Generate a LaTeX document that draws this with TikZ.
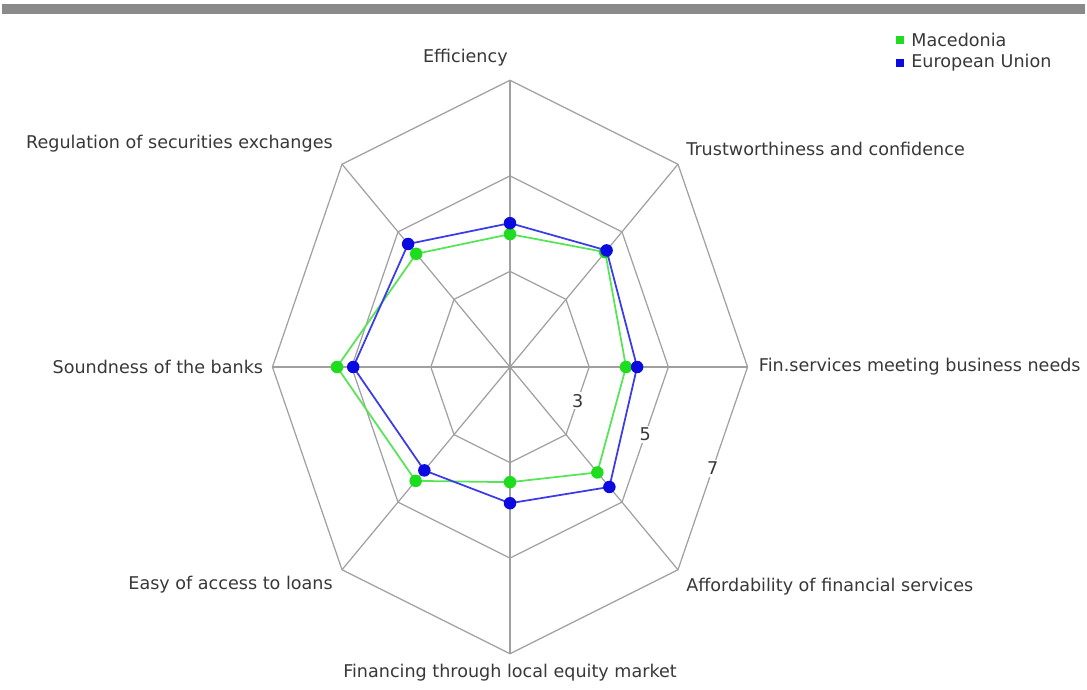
\documentclass[tikz,border=0pt]{standalone}
\usepackage{fontspec}
\setmainfont{DejaVu Sans}
\usetikzlibrary{positioning,calc}
\definecolor{macgreen}{RGB}{30,220,30}
\definecolor{eublue}{RGB}{10,10,225}
\definecolor{gridgray}{RGB}{160,160,160}
\definecolor{bargray}{RGB}{138,138,138}
\tikzset{
	line join=round
}

\begin{document}
\begin{tikzpicture}[
	x = 0.02cm, y = -0.02cm,
	every node/.style = {
		font = \fontsize{10}{12}\selectfont,
		text = black!78
	},
	gridline/.style = {
		draw = gridgray,
		line width = 0.7pt
	},
	axislabel/.style = {
		inner sep = 0pt
	},
	ringlabel/.style = {
		fill = white,
		inner sep = 1pt
	},
	macline/.style = {
		draw = macgreen!75,
		line width = 1pt
	},
	euline/.style = {
		draw = eublue!80,
		line width = 1pt
	},
	dot/.style = {
		circle,
		inner sep = 0pt,
		minimum size = 0.25cm
	},
	legbox/.style = {
		inner sep = 0pt,
		minimum size = 0.16cm
	}
	]

	\useasboundingbox (0,0) rectangle (1087,689);
	\fill[bargray] (2,4) rectangle (1085,14);

	\coordinate (c) at (510,367);
	\begin{scope}[shift={(c)}, x={(0.792cm,0)}, y={(0,0.956cm)}]
		\foreach \a in {0,45,...,315}
			\draw[gridline] (0,0) -- (\a:6);
		\foreach \r in {2,4,6}
			\draw[gridline] (0:\r) \foreach \a in {45,90,...,315} {-- (\a:\r)} -- cycle;
		\foreach \r/\v in {2/3,4/5,6/7}
			\node[ringlabel] (ring\v) at ($(0:\r)!0.5!(-45:\r)$) {\v};

		\coordinate (tipN) at (90:6);
		\coordinate (tipNE) at (45:6);
		\coordinate (tipE) at (0:6);
		\coordinate (tipSE) at (-45:6);
		\coordinate (tipS) at (-90:6);
		\coordinate (tipSW) at (-135:6);
		\coordinate (tipW) at (180:6);
		\coordinate (tipNW) at (135:6);

		\foreach \v [count=\i from 0] in {3.78,4.40,3.93,4.12,3.41,4.37,5.37,4.35}
			\coordinate (mac\i) at ({90-45*\i}:{\v-1});
		\foreach \v [count=\i from 0] in {4.01,4.45,4.21,4.55,3.85,4.06,4.96,4.64}
			\coordinate (eu\i) at ({90-45*\i}:{\v-1});
	\end{scope}

	\node[axislabel, above left = 2.8mm and 0.4mm of tipN] (eff) {Efficiency};
	\node[axislabel, above right = 1.7mm and 1.6mm of tipNE] (trust) {Trustworthiness and confidence};
	\node[axislabel, right = 2.2mm of tipE] (finserv) {Fin.services meeting business needs};
	\node[axislabel, below right = 1.6mm and 1.6mm of tipSE] (afford) {Affordability of financial services};
	\node[axislabel, below = 2mm of tipS] (equity) {Financing through local equity market};
	\node[axislabel, below left = 1.2mm and 1.8mm of tipSW] (loans) {Easy of access to loans};
	\node[axislabel, left = 1.8mm of tipW] (banks) {Soundness of the banks};
	\node[axislabel, above left = 2.4mm and 1.8mm of tipNW] (secex) {Regulation of securities exchanges};

	\draw[macline] (mac0) -- (mac1) -- (mac2) -- (mac3) -- (mac4) -- (mac5) -- (mac6) -- (mac7) -- cycle;
	\foreach \i in {0,...,7}
		\node[dot, fill=macgreen] (macdot\i) at (mac\i) {};
	\draw[euline] (eu0) -- (eu1) -- (eu2) -- (eu3) -- (eu4) -- (eu5) -- (eu6) -- (eu7) -- cycle;
	\foreach \i in {0,...,7}
		\node[dot, fill=eublue] (eudot\i) at (eu\i) {};

	\node[axislabel, anchor=west] (legmac) at (911,40) {Macedonia};
	\node[axislabel, anchor=west] (legeu) at (911,63) {European Union};
	\node[legbox, fill=macgreen, left = 1.4mm of legmac] (boxmac) {};
	\node[legbox, fill=eublue, left = 1.4mm of legeu] (boxeu) {};

\end{tikzpicture}
\end{document}
